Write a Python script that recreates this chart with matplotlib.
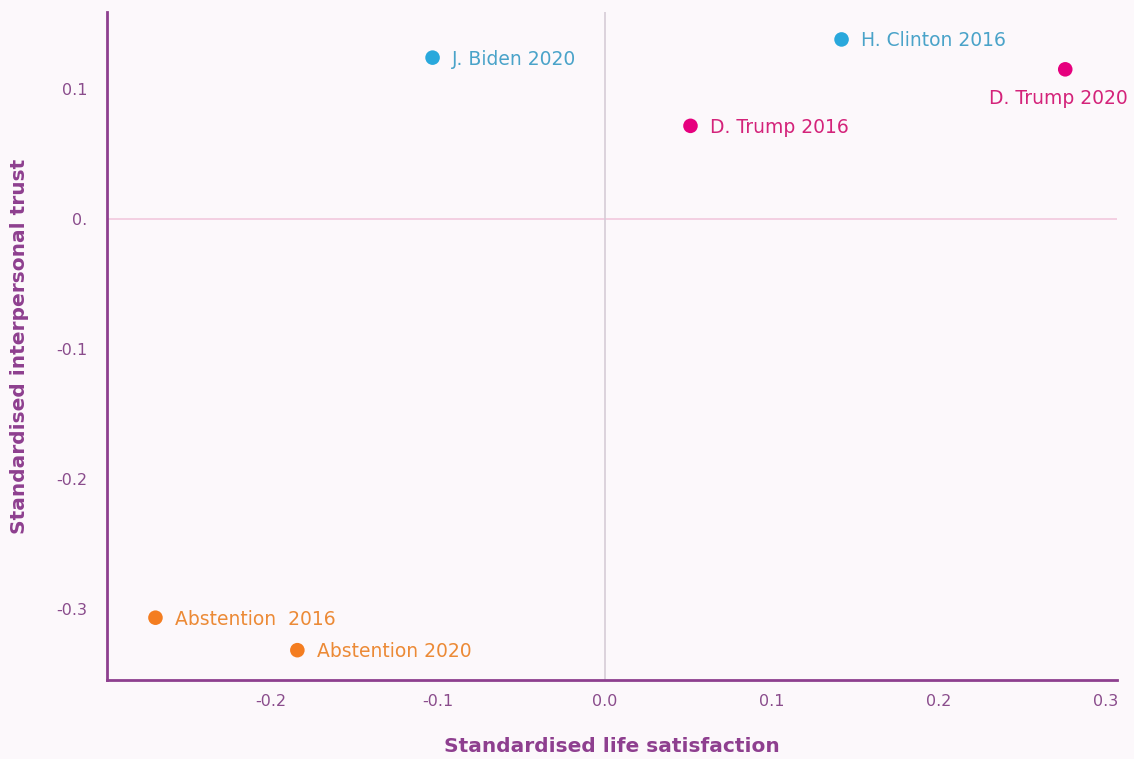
import matplotlib.pyplot as plt

# data
labels = ['J. Biden 2020', 'H. Clinton 2016', 'D. Trump 2020', 'D. Trump 2016',
          'Abstention  2016', 'Abstention 2020']
life_sat = [-0.103, 0.142, 0.276, 0.0515, -0.269, -0.184]
trust = [0.124, 0.138, 0.115, 0.0715, -0.307, -0.332]
colors = ['#29a8dc', '#29a8dc', '#e6007e', '#e6007e', '#f47d20', '#f47d20']
text_colors = ['#4aa3c9', '#4aa3c9', '#d4237a', '#d4237a', '#ec8a36', '#ec8a36']

xticks = [-0.2, -0.1, 0.0, 0.1, 0.2, 0.3]
xtick_labels = ['-0.2', '-0.1', '0.0', '0.1', '0.2', '0.3']
yticks = [0.1, 0.0, -0.1, -0.2, -0.3]
ytick_labels = ['0.1', '0.', '-0.1', '-0.2', '-0.3']

plt.rcParams['font.family'] = ['DejaVu Sans']
bg = '#fcf8fb'
purple = '#8e3f8f'

fig = plt.figure(figsize=(11.34, 7.59), dpi=100, facecolor=bg)
ax = fig.add_axes([0.0944, 0.104, 0.8906, 0.88])
ax.set_facecolor(bg)

ax.axhline(0, color='#f2c9dd', lw=1.2, zorder=1)
ax.axvline(0, color='#d6ccd6', lw=1.2, zorder=1)

ax.scatter(life_sat, trust, s=110, c=colors, zorder=3, edgecolors='none')

for lab, x, y, tc in zip(labels, life_sat, trust, text_colors):
    if lab == 'D. Trump 2020':
        ax.annotate(lab, (x, y), xytext=(-5, -21), textcoords='offset points',
                    ha='center', va='center', color=tc, fontsize=13.5)
    else:
        ax.annotate(lab, (x, y), xytext=(14, -1), textcoords='offset points',
                    ha='left', va='center', color=tc, fontsize=13.5)

ax.set_xlim(-0.298, 0.307)
ax.set_ylim(-0.355, 0.159)
ax.set_xticks(xticks)
ax.set_xticklabels(xtick_labels)
ax.set_yticks(yticks)
ax.set_yticklabels(ytick_labels)
ax.tick_params(length=0, colors='#8a4c8c', labelsize=11.5, pad=10)
ax.tick_params(axis='y', pad=14)

for s in ['top', 'right']:
    ax.spines[s].set_visible(False)
for s in ['left', 'bottom']:
    ax.spines[s].set_color(purple)
    ax.spines[s].set_linewidth(2)

ax.set_xlabel('Standardised life satisfaction', color=purple, fontsize=14.5,
              fontweight='bold', labelpad=20)
ax.set_ylabel('Standardised interpersonal trust', color=purple, fontsize=14.5,
              fontweight='bold', labelpad=20)

fig.savefig('out.png', dpi=100, facecolor=bg)
